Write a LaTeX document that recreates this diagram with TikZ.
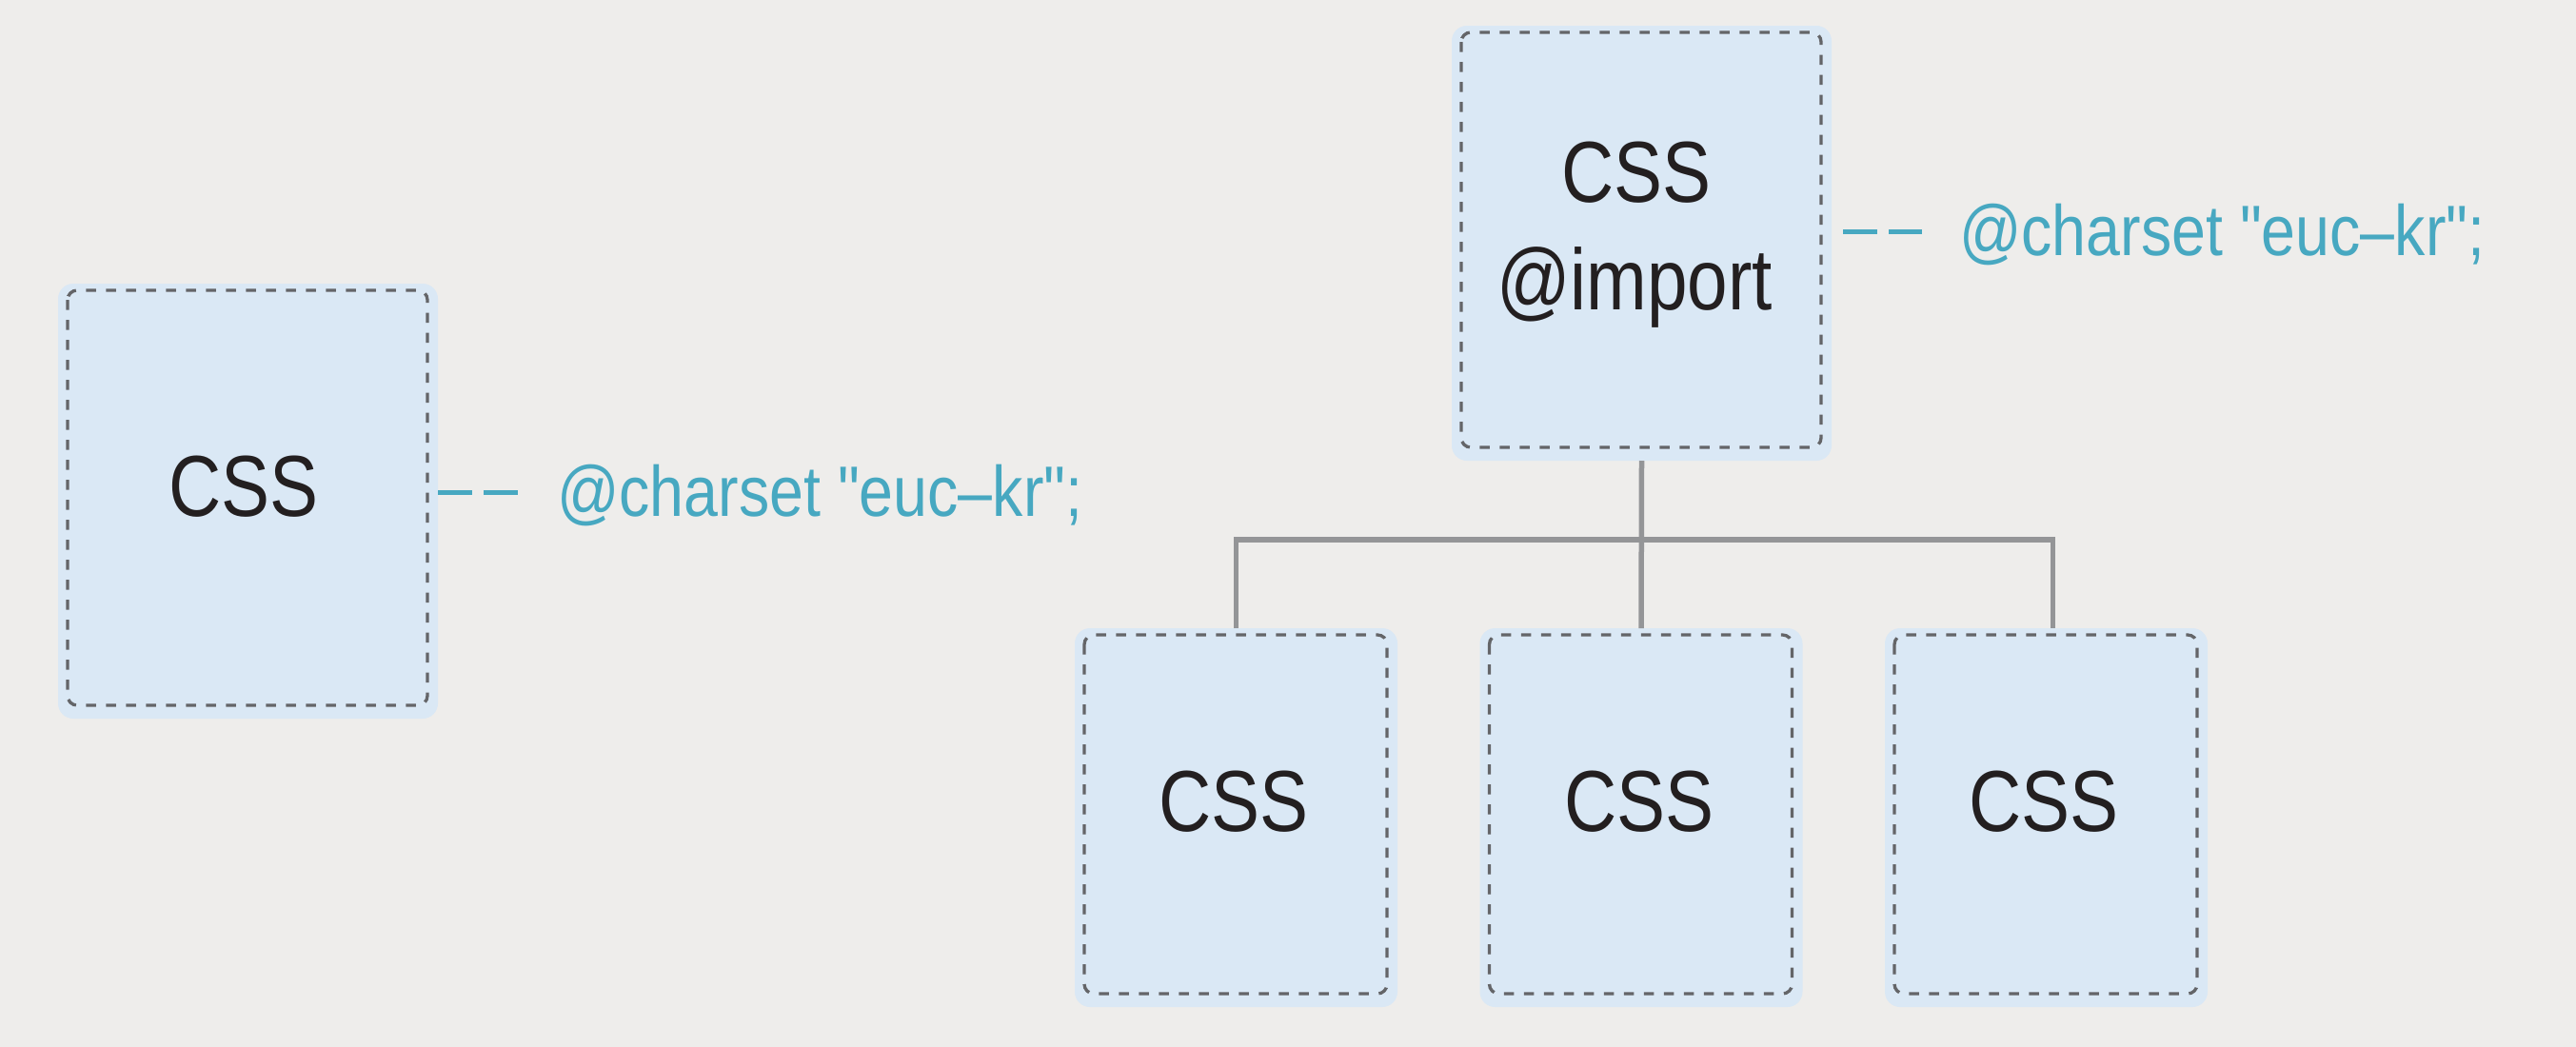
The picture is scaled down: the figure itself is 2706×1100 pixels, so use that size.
\documentclass[tikz,border=0pt]{standalone}
\usepackage{fontspec}
\usepackage{graphicx}
\setmainfont{Liberation Sans}[Ligatures=TeXOff]
\usetikzlibrary{calc}
\definecolor{bgcol}{HTML}{EEEDEB}
\definecolor{boxfill}{HTML}{DAE8F5}
\definecolor{dashgray}{HTML}{646568}
\definecolor{treegray}{HTML}{949597}
\definecolor{tealtext}{HTML}{47A8C1}
\definecolor{ink}{HTML}{231F20}
\newcommand{\bigtxt}[1]{\scalebox{0.84}[1]{\fontsize{91}{100}\selectfont #1}}
\newcommand{\notetxt}[1]{\scalebox{0.86}[1]{\fontsize{75}{85}\selectfont #1}}
\begin{document}
\begin{tikzpicture}[x=1pt,y=-1pt,
  box/.style={fill=boxfill, rounded corners=16pt, inner sep=0pt, outer sep=0pt},
  bigbox/.style={box, minimum width=399pt, minimum height=457pt},
  smallbox/.style={box, minimum width=339pt, minimum height=398pt},
  dashbox/.style={draw=dashgray, line width=3.3pt, dash pattern=on 10.5pt off 10.5pt, rounded corners=10pt},
  tree/.style={draw=treegray, line width=5.5pt},
  tealdash/.style={draw=tealtext, line width=5pt, dash pattern=on 36pt off 12pt},
  note/.style={text=tealtext, anchor=base west, inner sep=0pt},
  lbl/.style={text=ink, anchor=base, inner sep=0pt}]
\fill[bgcol] (0,0) rectangle (2706,1100);
\useasboundingbox (0,0) rectangle (2706,1100);

% boxes
\node[bigbox] (L) at (260.5,526.5) {};
\node[bigbox] (T) at (1724.5,255.5) {};
\node[smallbox] (B1) at (1298.5,859) {};
\node[smallbox] (B2) at (1724,859) {};
\node[smallbox] (B3) at (2149.5,859) {};

\foreach \n in {L,T,B1,B2,B3}{
  \draw[dashbox] ($(\n.north west)+(10,7)$) rectangle ($(\n.south east)+(-11,-14)$);
}

% labels
\node[lbl] (Lt) at (256,542) {\bigtxt{CSS}};
\node[lbl] (Tt1) at (1719,212) {\bigtxt{CSS}};
\node[lbl] (Tt2) at (1717,325) {\bigtxt{@import}};
\node[lbl] (B1t) at (1296,873) {\bigtxt{CSS}};
\node[lbl] (B2t) at (1722,873) {\bigtxt{CSS}};
\node[lbl] (B3t) at (2147,873) {\bigtxt{CSS}};

% notes
\node[note] (Ln) at (585,542) {\notetxt{@charset "euc–kr";}};
\node[note] (Tn) at (2058,268) {\notetxt{@charset "euc–kr";}};
\coordinate (Le) at ($(Ln.west |- 0,517)+(-40,0)$);
\coordinate (Te) at ($(Tn.west |- 0,243)+(-39,0)$);
\draw[tealdash] (L.east |- Le) -- (Le);
\draw[tealdash] ($(T.east |- Te)+(12,0)$) -- (Te);

% tree
\coordinate (J) at ($(T.south)+(0,83)$);
\coordinate (B3n) at ($(B3.north)+(7,0)$);
\draw[tree] (T.south) -- (B2.north);
\draw[tree] (B1.north) |- (J) -| (B3n);
\end{tikzpicture}
\end{document}
